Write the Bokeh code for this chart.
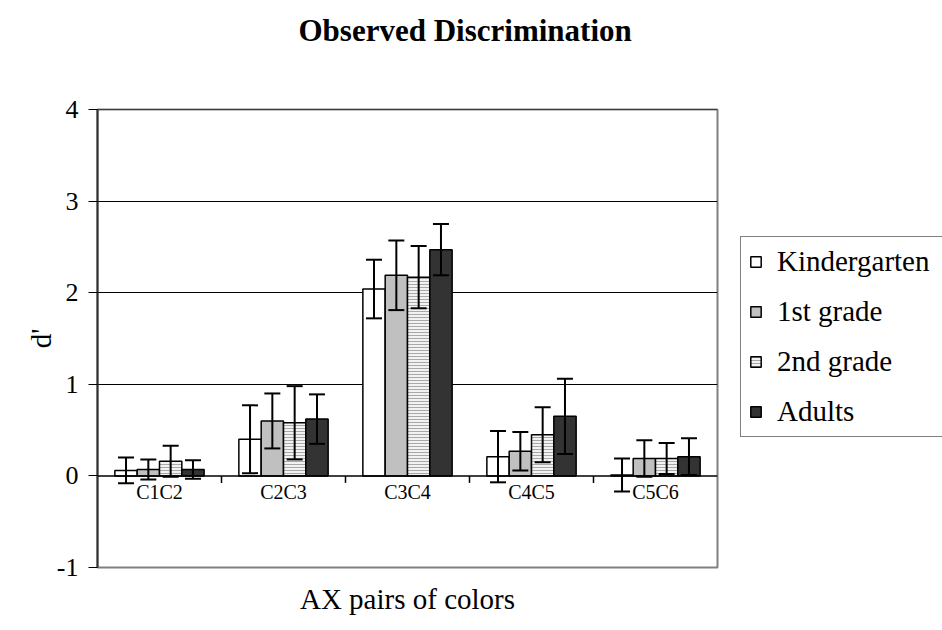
from bokeh.plotting import figure
from bokeh.layouts import row
from bokeh.models import (ColumnDataSource, FactorRange, Range1d, FixedTicker,
                          Legend, LegendItem, Span, Title)
from bokeh.transform import dodge
from bokeh.embed import file_html
from bokeh.resources import INLINE

# Discrimination scores (d') per colour pair and age group, with error half-widths
pairs = ["C1C2", "C2C3", "C3C4", "C4C5", "C5C6"]
groups = ["Kindergarten", "1st grade", "2nd grade", "Adults"]

kinder = [0.06, 0.40, 2.04, 0.21, 0.01]
kinder_err = [0.14, 0.37, 0.32, 0.28, 0.18]
grade1 = [0.07, 0.60, 2.19, 0.27, 0.19]
grade1_err = [0.11, 0.30, 0.38, 0.21, 0.20]
grade2 = [0.16, 0.58, 2.17, 0.45, 0.19]
grade2_err = [0.17, 0.40, 0.34, 0.30, 0.17]
adults = [0.07, 0.62, 2.47, 0.65, 0.21]
adults_err = [0.10, 0.27, 0.28, 0.41, 0.20]

y_ticks = [-1, 0, 1, 2, 3, 4]
y_tick_labels = ["-1", "0", "1", "2", "3", "4"]
grid_levels = [1, 2, 3, 4]

SERIF = "Liberation Serif"

series = [
    (groups[0], kinder, kinder_err, dict(fill_color="white")),
    (groups[1], grade1, grade1_err, dict(fill_color="#c0c0c0")),
    (groups[2], grade2, grade2_err, dict(fill_color="#f2f2f2", hatch_pattern="horizontal_line",
                                         hatch_color="#a8a8a8", hatch_scale=3, hatch_weight=1)),
    (groups[3], adults, adults_err, dict(fill_color="#333333")),
]
bar_width = 0.18
offsets = [-0.27, -0.09, 0.09, 0.27]

p = figure(x_range=FactorRange(*pairs, range_padding=0, factor_padding=0),
           y_range=Range1d(-1, 4),
           width=740, height=630,
           min_border_left=97, min_border_right=23,
           min_border_top=109, min_border_bottom=63,
           output_backend="svg", toolbar_location=None)

# chart title, held clear of the frame by an empty spacer title below it
p.title.text = "Observed Discrimination"
p.title.align = "left"
p.title.offset = 201
p.title.standoff = 0
p.title.text_font = SERIF
p.title.text_font_size = "31px"
p.title.text_font_style = "bold"
p.title.text_color = "black"
p.add_layout(Title(text=" ", text_font_size="1px", standoff=59), "above")

p.outline_line_color = "#808080"
p.outline_line_width = 2
p.background_fill_color = "white"
p.border_fill_color = "white"

# horizontal gridlines
p.xgrid.visible = False
p.ygrid.ticker = FixedTicker(ticks=grid_levels)
p.ygrid.grid_line_color = "black"
p.ygrid.grid_line_width = 1

# y axis
yax = p.yaxis[0]
yax.ticker = FixedTicker(ticks=y_ticks)
yax.major_label_overrides = {t: s for t, s in zip(y_ticks, y_tick_labels)}
yax.axis_line_color = "#333333"
yax.axis_line_width = 2
yax.major_tick_out = 9
yax.major_tick_in = 0
yax.major_tick_line_color = "black"
yax.minor_tick_line_color = None
yax.major_label_text_font = SERIF
yax.major_label_text_font_size = "26px"
yax.major_label_text_color = "black"
yax.major_label_standoff = 10
yax.axis_label = "d'"
yax.axis_label_text_font = SERIF
yax.axis_label_text_font_size = "29px"
yax.axis_label_text_font_style = "normal"
yax.axis_label_text_color = "black"
yax.axis_label_standoff = -3

# x axis carries only the title; category names sit along the zero line
xax = p.xaxis[0]
xax.axis_line_color = None
xax.major_tick_line_color = None
xax.minor_tick_line_color = None
xax.major_label_text_alpha = 0
xax.major_label_text_font_size = "10px"
xax.major_label_standoff = 0
xax.major_tick_out = 0
xax.axis_label = "AX pairs of colors"
xax.axis_label_text_font = SERIF
xax.axis_label_text_font_size = "29px"
xax.axis_label_text_font_style = "normal"
xax.axis_label_text_color = "black"
xax.axis_label_standoff = 15

sources = []
for (name, vals, errs, style), off in zip(series, offsets):
    src = ColumnDataSource(dict(
        pair=pairs,
        top=vals,
        lo=[v - e for v, e in zip(vals, errs)],
        hi=[v + e for v, e in zip(vals, errs)],
    ))
    p.vbar(x=dodge("pair", off, range=p.x_range), top="top", bottom=0,
           width=bar_width, line_color="black", line_width=1.5,
           source=src, **style)
    sources.append((src, off))

# error bars on top of all bars
for src, off in sources:
    xs = dodge("pair", off, range=p.x_range)
    p.segment(x0=xs, y0="lo", x1=xs, y1="hi", source=src,
              line_color="black", line_width=2)
    p.scatter(x=xs, y="hi", source=src, marker="dash", size=16,
              line_color="black", line_width=2)
    p.scatter(x=xs, y="lo", source=src, marker="dash", size=16,
              line_color="black", line_width=2)

# category axis along d' = 0
p.add_layout(Span(location=0, dimension="width", line_color="black", line_width=1.5))
p.add_layout(Span(location=4, dimension="width", line_color="black", line_width=1))

tick_px = 7
tick_len = tick_px * (4 - (-1)) / 458.0
tick_src = ColumnDataSource(dict(pair=pairs[:-1]))
tx = dodge("pair", 0.5, range=p.x_range)
p.segment(x0=tx, y0=0, x1=tx, y1=-tick_len, source=tick_src,
          line_color="black", line_width=1.5)

label_src = ColumnDataSource(dict(pair=pairs, y=[0] * len(pairs)))
p.text(x="pair", y="y", text="pair", source=label_src,
       text_align="center", text_baseline="middle", y_offset=16,
       text_font_size="20px", text_color="black",
       text_font={"value": SERIF})

# legend panel to the right of the chart; its hidden key glyphs share the bar
# data and styles, so the legend swatches match the bars
pl = figure(width=202, height=630,
            x_range=FactorRange(*pairs, range_padding=0, factor_padding=0),
            y_range=Range1d(10, 11),
            min_border=0, output_backend="svg", toolbar_location=None)
pl.xaxis.visible = False
pl.yaxis.visible = False
pl.grid.visible = False
pl.outline_line_color = None

key_renderers = []
for (name, vals, errs, style), (src, off) in zip(series, sources):
    r = pl.vbar(x="pair", top="top", bottom=0, width=bar_width,
                line_color="black", line_width=1.5, source=src, **style)
    r.visible = False
    key_renderers.append(r)

legend = Legend(
    items=[LegendItem(label=g, renderers=[r]) for g, r in zip(groups, key_renderers)],
    location=(0, 130),
    glyph_width=13, glyph_height=13,
    label_text_font=SERIF, label_text_font_size="29px", label_text_color="black",
    label_height=31, label_width=172, label_standoff=15,
    spacing=17, padding=8, margin=0,
    border_line_color="black", border_line_width=1,
    background_fill_color="white", background_fill_alpha=1,
)
pl.add_layout(legend)

layout = row(p, pl, spacing=0)
open("out.html", "w").write(file_html(layout, INLINE))
